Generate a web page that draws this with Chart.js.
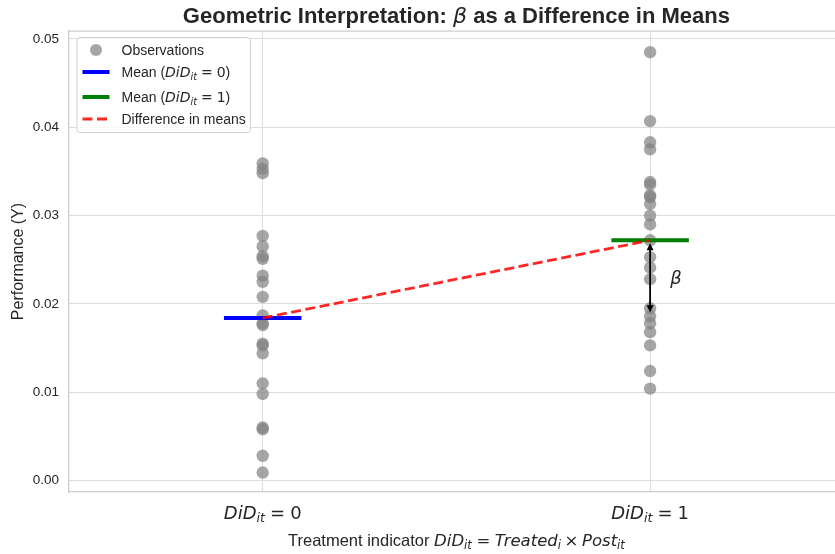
<!DOCTYPE html>
<html>
<head>
<meta charset="utf-8">
<script src="https://cdn.jsdelivr.net/npm/chart.js@4.4.1/dist/chart.umd.min.js"></script>
<style>
    html, body { margin: 0; padding: 0; overflow: hidden; background: #fff; }
    #wrap { width: 850px; height: 554px; position: relative; }
</style>
</head>
<body>
<div id="wrap"><canvas id="chart-did-means"></canvas></div>
<script>
// group positions on the x axis and the right-hand side of their labels
const groups = [0, 1];
const groupRhs = ['0', '1'];

// observations per group (Performance Y)
const obs0 = [0.0359, 0.0353, 0.0348, 0.0277, 0.0265, 0.0254, 0.0251, 0.0232, 0.0225, 0.0208,
              0.0187, 0.0178, 0.0176, 0.0155, 0.0153, 0.0144, 0.0110, 0.0098, 0.0060, 0.0058,
              0.0028, 0.0009];
const obs1 = [0.0485, 0.0407, 0.0383, 0.0375, 0.0338, 0.0335, 0.0323, 0.0321, 0.0313, 0.0300,
              0.0290, 0.0272, 0.0253, 0.0241, 0.0228, 0.0195, 0.0186, 0.0178, 0.0168, 0.0153,
              0.0124, 0.0104];

// group means and the lower end of the beta arrow
const means = [0.0184, 0.0272];
const arrowLow = 0.0187;

const yTicks = [0, 0.01, 0.02, 0.03, 0.04, 0.05];

const TEXT = '#262626';
const SANS = '"Liberation Sans", Arial, sans-serif';
const MATH = '"DejaVu Sans", sans-serif';
const sans = (s, w) => `${w || ''} ${s}px ${SANS}`;
const it = s => `italic ${s}px ${MATH}`;
const up = s => `${s}px ${MATH}`;

// mathtext-like pieces: DiD_{it} = rhs
function didParts(s, rhs) {
    return [
        { t: 'DiD', f: it(s) },
        { t: 'it', f: it(s * 0.7), dy: s * 0.2 },
        { t: '=', f: up(s), pre: s * 0.28, gap: s * 0.28 },
        { t: rhs, f: up(s) }
    ];
}

function richWidth(ctx, parts) {
    let w = 0;
    parts.forEach(p => {
        ctx.font = p.f;
        w += (p.pre || 0) + ctx.measureText(p.t).width + (p.gap || 0);
    });
    return w;
}

function drawRich(ctx, parts, x, y, align) {
    let cx = align === 'center' ? x - richWidth(ctx, parts) / 2 : x;
    ctx.textAlign = 'left';
    ctx.textBaseline = 'alphabetic';
    parts.forEach(p => {
        ctx.font = p.f;
        cx += p.pre || 0;
        ctx.fillText(p.t, cx, y + (p.dy || 0));
        cx += ctx.measureText(p.t).width + (p.gap || 0);
    });
}

const decor = {
    id: 'decor',
    afterDatasetsDraw(chart) {
        const { ctx, scales: { x, y } } = chart;
        // double headed arrow for beta
        const ax = x.getPixelForValue(groups[1]);
        const y1 = y.getPixelForValue(means[1]) + 3;
        const y2 = y.getPixelForValue(arrowLow) - 3;
        const hl = 7, hw = 3.5;
        ctx.save();
        ctx.strokeStyle = '#000';
        ctx.fillStyle = '#000';
        ctx.lineWidth = 1.8;
        ctx.beginPath();
        ctx.moveTo(ax, y1 + hl - 1);
        ctx.lineTo(ax, y2 - hl + 1);
        ctx.stroke();
        ctx.beginPath();
        ctx.moveTo(ax, y1); ctx.lineTo(ax - hw, y1 + hl); ctx.lineTo(ax + hw, y1 + hl); ctx.closePath();
        ctx.moveTo(ax, y2); ctx.lineTo(ax - hw, y2 - hl); ctx.lineTo(ax + hw, y2 - hl); ctx.closePath();
        ctx.fill();
        // beta label
        ctx.fillStyle = TEXT;
        ctx.font = it(18);
        ctx.textAlign = 'center';
        ctx.textBaseline = 'middle';
        ctx.fillText('β', x.getPixelForValue(1.067), y.getPixelForValue((means[0] + means[1]) / 2));
        ctx.restore();
    },
    afterDraw(chart) {
        const { ctx, chartArea: a, scales: { x } } = chart;
        ctx.save();
        // top spine
        ctx.strokeStyle = '#cccccc';
        ctx.lineWidth = 1.25;
        ctx.beginPath();
        ctx.moveTo(a.left, a.top);
        ctx.lineTo(a.right, a.top);
        ctx.stroke();

        ctx.fillStyle = TEXT;
        const cx = (a.left + a.right) / 2;
        // title
        drawRich(ctx, [
            { t: 'Geometric Interpretation: ', f: sans(22, 'bold') },
            { t: 'β', f: it(22) },
            { t: ' as a Difference in Means', f: sans(22, 'bold') }
        ], cx, 23, 'center');

        // x tick labels
        groups.forEach((g, i) => {
            drawRich(ctx, didParts(18, groupRhs[i]), x.getPixelForValue(g), a.bottom + 26.5, 'center');
        });

        // x axis label
        drawRich(ctx, [
            { t: 'Treatment indicator ', f: sans(16.5) },
            { t: 'DiD', f: it(16.5) },
            { t: 'it', f: it(11.5), dy: 3.3 },
            { t: '=', f: up(16.5), pre: 4.6, gap: 4.6 },
            { t: 'Treated', f: it(16.5) },
            { t: 'i', f: it(11.5), dy: 3.3 },
            { t: '×', f: up(16.5), pre: 3.6, gap: 3.6 },
            { t: 'Post', f: it(16.5) },
            { t: 'it', f: it(11.5), dy: 3.3 }
        ], cx, a.bottom + 54, 'center');

        // legend
        const lx = a.left + 8, ly = a.top + 6.5, lw = 173.5, lh = 95;
        ctx.beginPath();
        ctx.roundRect(lx, ly, lw, lh, 3);
        ctx.fillStyle = 'rgba(255,255,255,0.8)';
        ctx.fill();
        ctx.strokeStyle = '#d0d0d0';
        ctx.lineWidth = 1;
        ctx.stroke();

        const hx1 = lx + 5.5, hx2 = lx + 32.5, tx = lx + 44.5;
        const rows = [ly + 12.5, ly + 34.5, ly + 59.5, ly + 81.5];
        // observations marker
        ctx.fillStyle = 'rgba(128,128,128,0.7)';
        ctx.beginPath();
        ctx.arc((hx1 + hx2) / 2, rows[0], 6, 0, Math.PI * 2);
        ctx.fill();
        // mean handles
        ctx.lineWidth = 4;
        [['#0000ff', rows[1]], ['#008000', rows[2]]].forEach(([c, ry]) => {
            ctx.strokeStyle = c;
            ctx.beginPath(); ctx.moveTo(hx1, ry); ctx.lineTo(hx2, ry); ctx.stroke();
        });
        // difference handle
        ctx.strokeStyle = 'rgba(255,0,0,0.85)';
        ctx.lineWidth = 2.8;
        ctx.setLineDash([10, 4.5]);
        ctx.beginPath(); ctx.moveTo(hx1, rows[3]); ctx.lineTo(hx2, rows[3]); ctx.stroke();
        ctx.setLineDash([]);

        ctx.fillStyle = TEXT;
        drawRich(ctx, [{ t: 'Observations', f: sans(14) }], tx, rows[0] + 5, 'left');
        groupRhs.forEach((r, i) => {
            drawRich(ctx, [{ t: 'Mean (', f: sans(14) }, ...didParts(14, r), { t: ')', f: sans(14) }],
                tx, rows[i + 1] + 5, 'left');
        });
        drawRich(ctx, [{ t: 'Difference in means', f: sans(14) }], tx, rows[3] + 5, 'left');
        ctx.restore();
    }
};

const MEAN_HALF = 0.1;

new Chart(document.getElementById('chart-did-means'), {
    type: 'scatter',
    data: {
        datasets: [
            {
                label: 'Difference in means',
                type: 'line',
                data: groups.map((g, i) => ({ x: g, y: means[i] })),
                borderColor: 'rgba(255,0,0,0.85)',
                borderWidth: 2.8,
                borderDash: [10, 4.5],
                pointRadius: 0,
                fill: false,
                order: 1
            },
            {
                label: 'Mean (DiD=0)',
                type: 'line',
                data: [{ x: groups[0] - MEAN_HALF, y: means[0] }, { x: groups[0] + MEAN_HALF, y: means[0] }],
                borderColor: '#0000ff',
                borderWidth: 4,
                pointRadius: 0,
                fill: false,
                order: 2
            },
            {
                label: 'Mean (DiD=1)',
                type: 'line',
                data: [{ x: groups[1] - MEAN_HALF, y: means[1] }, { x: groups[1] + MEAN_HALF, y: means[1] }],
                borderColor: '#008000',
                borderWidth: 4,
                pointRadius: 0,
                fill: false,
                order: 2
            },
            {
                label: 'Observations',
                data: [...obs0.map(v => ({ x: groups[0], y: v })), ...obs1.map(v => ({ x: groups[1], y: v }))],
                backgroundColor: 'rgba(128,128,128,0.7)',
                borderWidth: 0,
                pointRadius: 6.2,
                order: 3
            }
        ]
    },
    options: {
        responsive: true,
        maintainAspectRatio: false,
        animation: false,
        layout: { padding: { top: 31, right: 5, bottom: 62, left: 0 } },
        scales: {
            x: {
                type: 'linear',
                min: -0.5, max: 1.5,
                afterBuildTicks: s => { s.ticks = groups.map(v => ({ value: v })); },
                afterFit: s => { s.height = 0; },
                ticks: { display: false },
                grid: { color: '#dcdcdc', lineWidth: 1, drawTicks: false },
                border: { color: '#cccccc', width: 1.25 }
            },
            y: {
                min: -0.0013, max: 0.0509,
                afterBuildTicks: s => { s.ticks = yTicks.map(v => ({ value: v })); },
                afterFit: s => { s.width = 69; },
                ticks: {
                    callback: v => v.toFixed(2),
                    color: TEXT,
                    font: { size: 13.5, family: SANS },
                    padding: 10
                },
                grid: { color: '#dcdcdc', lineWidth: 1, drawTicks: false },
                border: { color: '#cccccc', width: 1.25 },
                title: {
                    display: true,
                    text: 'Performance (Y)',
                    color: TEXT,
                    font: { size: 16, family: SANS },
                    padding: { top: 9, bottom: 0 }
                }
            }
        },
        plugins: {
            legend: { display: false },
            tooltip: { enabled: false },
            title: { display: false }
        }
    },
    plugins: [decor]
});
</script>
</body>
</html>
